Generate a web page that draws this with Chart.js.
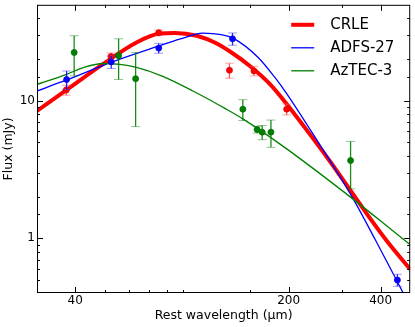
<!DOCTYPE html>
<html>
<head>
<meta charset="utf-8">
<script src="https://cdn.jsdelivr.net/npm/chart.js@4.4.0/dist/chart.umd.min.js"></script>
<style>
  html, body { margin: 0; padding: 0; background: #fff; }
  #wrap { width: 415px; height: 327px; }
</style>
</head>
<body>
<div id="wrap"><canvas id="grafico"></canvas></div>
<script>
// curvas ajustadas (comprimento de onda de repouso em um, fluxo em mJy)
const curvaCrleX = [30, 37.5, 49.3, 63.5, 75.7, 85, 100, 115, 130, 150, 174, 197, 226, 270, 320, 365, 425, 500];
const curvaCrleY = [8.46, 12.0, 18.5, 26.6, 30.9, 31.2, 29.8, 26.5, 22.5, 17.8, 13.2, 9.5, 6.39, 3.76, 2.2, 1.45, 0.92, 0.595];

const curvaAdfsX = [30, 37.5, 53.2, 75.7, 87.9, 104.8, 120.5, 131.5, 158.9, 180.3, 197, 235, 326, 384, 476, 500];
const curvaAdfsY = [11.8, 14.2, 19.3, 25.2, 28.1, 31.1, 30.3, 28.6, 20.7, 14.8, 11.3, 6.2, 1.92, 0.98, 0.394, 0.32];

const curvaAztecX = [30, 37.5, 43, 49.3, 56, 63.5, 76.7, 97.2, 125, 142, 194.5, 326, 476, 500];
const curvaAztecY = [13.2, 15.6, 17.6, 18.7, 18.4, 17.5, 15.2, 11.8, 8.7, 7.36, 4.57, 1.92, 0.98, 0.9];

// pontos medidos com erros
const crleX = [37.4, 52.4, 75.1, 128, 154, 197];
const crleY = [12.0, 21.0, 31.3, 16.7, 16.5, 8.7];
const crleErro = [1.0, 1.3, 1.5, 2.1, 1.3, 0.8];

const adfsX = [37.5, 52.5, 75.1, 131, 454];
const adfsY = [14.3, 19.2, 24.2, 28.3, 0.497];
const adfsErro = [2.2, 2.0, 2.0, 2.9, 0.05];

const aztecX = [39.7, 55.5, 63.1, 141.6, 157.7, 163.8, 175, 319];
const aztecY = [22.5, 21.3, 14.5, 8.7, 6.18, 5.92, 5.92, 3.68];
const aztecErro = [7.3, 7.0, 8.0, 1.5, 0.35, 0.7, 1.33, 1.39];

const rotulosX = [40, 200, 400];
const rotulosY = [1, 10];
const nomes = ['CRLE', 'ADFS-27', 'AzTEC-3'];

function pares(xs, ys) {
  return xs.map((x, i) => ({ x: x, y: ys[i] }));
}

const barrasErro = {
  id: 'barrasErro',
  beforeDatasetDraw(chart, args) {
    const ds = chart.data.datasets[args.index];
    if (!ds.erros) return;
    const ctx = chart.ctx;
    const a = chart.chartArea;
    const xs = chart.scales.x, ys = chart.scales.y;
    ctx.save();
    ctx.beginPath();
    ctx.rect(a.left, a.top, a.right - a.left, a.bottom - a.top);
    ctx.clip();
    ds.data.forEach((p, i) => {
      const px = xs.getPixelForValue(p.x);
      const yTopo = ys.getPixelForValue(p.y + ds.erros[i]);
      const yBase = ys.getPixelForValue(p.y - ds.erros[i]);
      ctx.strokeStyle = ds.corBarra;
      ctx.lineWidth = 1.3;
      ctx.beginPath();
      ctx.moveTo(px, yTopo);
      ctx.lineTo(px, yBase);
      ctx.stroke();
      ctx.strokeStyle = ds.corTampa;
      ctx.lineWidth = 1;
      ctx.beginPath();
      ctx.moveTo(px - 4.5, yTopo); ctx.lineTo(px + 4.5, yTopo);
      ctx.moveTo(px - 4.5, yBase); ctx.lineTo(px + 4.5, yBase);
      ctx.stroke();
    });
    ctx.restore();
  }
};

const moldura = {
  id: 'moldura',
  afterDraw(chart) {
    const ctx = chart.ctx;
    const a = chart.chartArea;
    const x = chart.scales.x, y = chart.scales.y;
    ctx.save();
    ctx.strokeStyle = '#000';
    ctx.lineWidth = 1;
    ctx.beginPath();
    x.ticks.forEach(t => {
      const v = t.value;
      if (v <= x.min * 1.001 || v >= x.max * 0.999 || Math.abs(v - 100) < 1e-6) return;
      const len = rotulosX.includes(v) ? 6 : 3;
      const px = Math.round(x.getPixelForValue(v)) + 0.5;
      ctx.moveTo(px, a.bottom); ctx.lineTo(px, a.bottom - len);
      ctx.moveTo(px, a.top); ctx.lineTo(px, a.top + len);
    });
    y.ticks.forEach(t => {
      const v = t.value;
      if (v <= y.min * 1.001 || v >= y.max * 0.999) return;
      const major = rotulosY.some(r => Math.abs(r - v) < 1e-9);
      const len = major ? 6 : 3;
      const py = Math.round(y.getPixelForValue(v)) + 0.5;
      ctx.moveTo(a.left, py); ctx.lineTo(a.left + len, py);
      ctx.moveTo(a.right, py); ctx.lineTo(a.right - len, py);
    });
    ctx.stroke();
    ctx.strokeRect(a.left + 0.5, a.top + 0.5, a.right - a.left - 1, a.bottom - a.top - 1);

    // legenda dentro da area do grafico
    ctx.font = '15px "DejaVu Sans"';
    ctx.textBaseline = 'middle';
    ctx.textAlign = 'left';
    ctx.fillStyle = '#000';
    const curvas = chart.data.datasets.filter(d => d.legenda);
    curvas.forEach((d, i) => {
      const ly = a.top + 20 + i * 23;
      ctx.strokeStyle = d.borderColor;
      ctx.lineWidth = d.borderWidth;
      ctx.beginPath();
      ctx.moveTo(a.right - 119, ly);
      ctx.lineTo(a.right - 96, ly);
      ctx.stroke();
      ctx.fillText(d.label, a.right - 80, ly);
    });
    ctx.restore();
  }
};

function semPadding(s) {
  s.paddingTop = 0; s.paddingBottom = 0;
  s.paddingLeft = 0; s.paddingRight = 0;
}

const ctx = document.getElementById('grafico').getContext('2d');
new Chart(ctx, {
  type: 'scatter',
  data: {
    datasets: [
      {
        label: nomes[0], legenda: true, data: pares(curvaCrleX, curvaCrleY),
        showLine: true, borderColor: '#ff0000', borderWidth: 4, pointRadius: 0,
        cubicInterpolationMode: 'monotone', order: 6
      },
      {
        label: nomes[1], legenda: true, data: pares(curvaAdfsX, curvaAdfsY),
        showLine: true, borderColor: '#0000ff', borderWidth: 1.3, pointRadius: 0,
        cubicInterpolationMode: 'monotone', order: 5
      },
      {
        label: nomes[2], legenda: true, data: pares(curvaAztecX, curvaAztecY),
        showLine: true, borderColor: '#008000', borderWidth: 1.3, pointRadius: 0,
        cubicInterpolationMode: 'monotone', order: 4
      },
      {
        label: nomes[0] + ' dados', data: pares(crleX, crleY), erros: crleErro,
        corBarra: 'rgba(255,60,60,0.85)', corTampa: 'rgba(255,80,80,0.5)',
        backgroundColor: '#ff0000', borderColor: '#e00000', pointRadius: 3, borderWidth: 0.8, order: 3
      },
      {
        label: nomes[1] + ' dados', data: pares(adfsX, adfsY), erros: adfsErro,
        corBarra: 'rgba(0,0,255,0.85)', corTampa: 'rgba(60,60,255,0.5)',
        backgroundColor: '#0000ff', borderColor: '#0000e0', pointRadius: 3, borderWidth: 0.8, order: 2
      },
      {
        label: nomes[2] + ' dados', data: pares(aztecX, aztecY), erros: aztecErro,
        corBarra: 'rgba(0,128,0,0.9)', corTampa: 'rgba(0,128,0,0.45)',
        backgroundColor: '#008000', borderColor: '#007000', pointRadius: 3, borderWidth: 0.8, order: 1
      }
    ]
  },
  options: {
    responsive: true,
    maintainAspectRatio: false,
    animation: false,
    layout: { padding: { top: 4, right: 4, left: 0, bottom: 0 } },
    plugins: { legend: { display: false }, tooltip: { enabled: false } },
    scales: {
      x: {
        type: 'logarithmic', min: 30, max: 500,
        grid: { display: false, drawTicks: false },
        border: { display: false },
        ticks: {
          autoSkip: false, maxRotation: 0, padding: 1, color: '#000',
          font: { family: 'DejaVu Sans', size: 12 },
          callback: v => rotulosX.includes(v) ? String(v) : ''
        },
        title: {
          display: true, text: 'Rest wavelength (μm)', color: '#000',
          font: { family: 'DejaVu Sans', size: 12.5 },
          padding: { top: 0, bottom: 4 }
        },
        afterFit(s) { s.height = 34; semPadding(s); }
      },
      y: {
        type: 'logarithmic', min: 0.4, max: 50,
        grid: { display: false, drawTicks: false },
        border: { display: false },
        ticks: {
          autoSkip: false, padding: 2, color: '#000',
          font: { family: 'DejaVu Sans', size: 12 },
          callback: v => rotulosY.some(r => Math.abs(r - v) < 1e-9) ? String(v) : ''
        },
        title: {
          display: true, text: 'Flux (mJy)', color: '#000',
          font: { family: 'DejaVu Sans', size: 12.5 },
          padding: { top: 1, bottom: 0 }
        },
        afterFit(s) { s.width = 37; semPadding(s); }
      }
    }
  },
  plugins: [barrasErro, moldura]
});
</script>
</body>
</html>
